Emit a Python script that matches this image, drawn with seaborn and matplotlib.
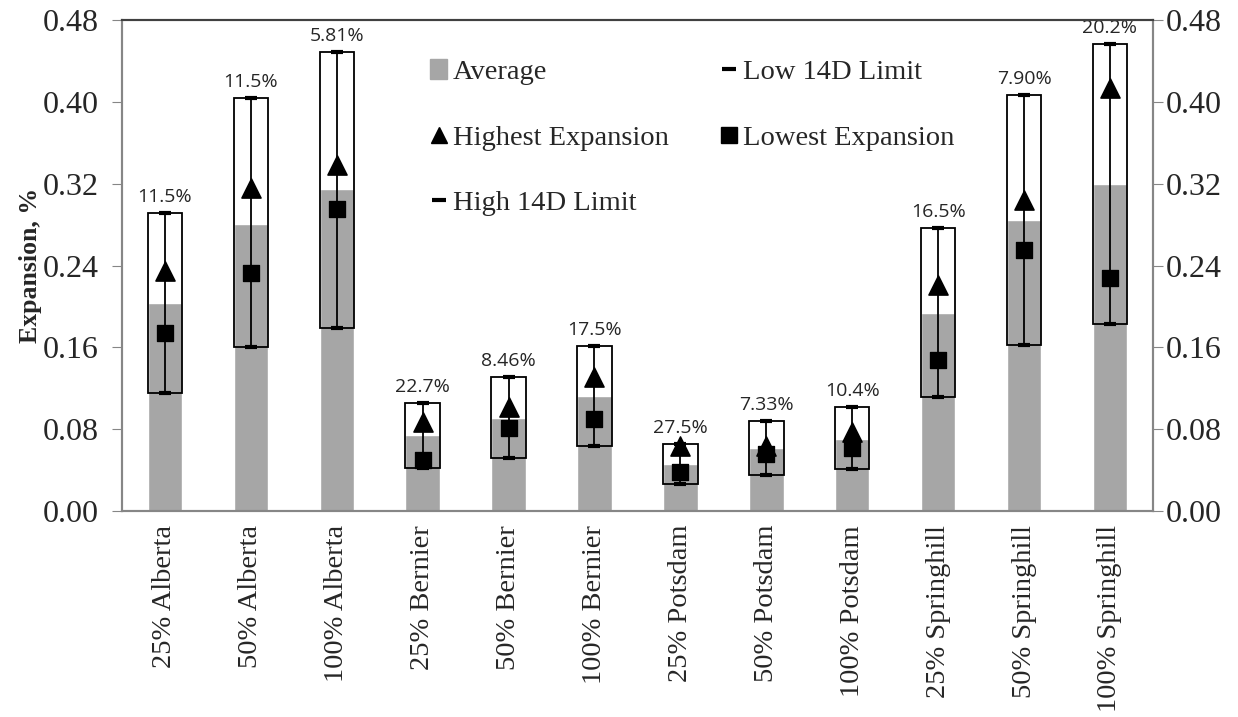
import numpy as np
import pandas as pd
import seaborn as sns
import matplotlib.pyplot as plt
from matplotlib.patches import Patch
from matplotlib.lines import Line2D

# data
mixes = ['25% Alberta', '50% Alberta', '100% Alberta',
         '25% Bernier', '50% Bernier', '100% Bernier',
         '25% Potsdam', '50% Potsdam', '100% Potsdam',
         '25% Springhill', '50% Springhill', '100% Springhill']
average = [0.203, 0.281, 0.315, 0.074, 0.091, 0.112, 0.046, 0.062, 0.070, 0.194, 0.285, 0.320]
highest = [0.235, 0.316, 0.338, 0.087, 0.102, 0.131, 0.064, 0.064, 0.077, 0.221, 0.304, 0.414]
lowest = [0.174, 0.233, 0.295, 0.050, 0.081, 0.090, 0.038, 0.056, 0.062, 0.148, 0.255, 0.228]
low_limit = [0.115, 0.160, 0.179, 0.042, 0.052, 0.064, 0.026, 0.035, 0.041, 0.111, 0.162, 0.183]
high_limit = [0.291, 0.404, 0.449, 0.106, 0.131, 0.161, 0.066, 0.088, 0.102, 0.277, 0.407, 0.457]
cov_labels = ['11.5%', '11.5%', '5.81%', '22.7%', '8.46%', '17.5%',
              '27.5%', '7.33%', '10.4%', '16.5%', '7.90%', '20.2%']

df = pd.DataFrame({'mix': mixes, 'average': average, 'highest': highest,
                   'lowest': lowest, 'low': low_limit, 'high': high_limit})

sns.set_style('white')
plt.rcParams['font.family'] = ['Liberation Serif', 'DejaVu Serif']

fig = plt.figure(figsize=(12.38, 7.17), dpi=100)
ax = fig.add_axes([0.0985, 0.2873, 0.8328, 0.6847])

gray = '#a6a6a6'
sns.barplot(data=df, x='mix', y='average', color=gray, width=0.4,
            saturation=1, ax=ax, zorder=1)

pos = np.arange(len(mixes))
hl = np.array(high_limit)
ll = np.array(low_limit)

# box between the 14D limits
ax.bar(pos, hl - ll, bottom=ll, width=0.4, fill=False,
       edgecolor='black', linewidth=1.3, zorder=2)

# whisker from low to high limit
mid = (hl + ll) / 2
ax.errorbar(pos, mid, yerr=(hl - ll) / 2, fmt='none', ecolor='black',
            elinewidth=1.3, capsize=4, capthick=3, zorder=3)

sns.scatterplot(data=df, x='mix', y='highest', marker='^', s=190,
                color='black', edgecolor='black', ax=ax, zorder=4)
sns.scatterplot(data=df, x='mix', y='lowest', marker='s', s=140,
                color='black', edgecolor='black', ax=ax, zorder=4)

for i, t in enumerate(cov_labels):
    ax.annotate(t, (pos[i], high_limit[i]), xytext=(0, 5), textcoords='offset points',
                ha='center', va='bottom', fontsize=14, family='Open Sans')

ax.set_xlim(-0.5, len(mixes) - 0.5)
ax.set_ylim(0, 0.48)
yt = np.arange(0, 0.481, 0.08)
ax.set_yticks(yt)
ax.set_yticklabels(['%.2f' % v for v in yt], fontsize=23)
ax.set_xticks(pos)
ax.set_xticklabels(mixes, rotation=90, fontsize=20.5)
ax.set_xticks(np.arange(-0.5, len(mixes), 1), minor=True)
ax.tick_params(axis='x', which='major', length=0, pad=10)
ax.tick_params(axis='x', which='minor', length=7, color='#868686', direction='out')
ax.tick_params(axis='y', length=7, color='#868686', direction='out', left=True, pad=10)
ax.set_xlabel('')
ax.set_ylabel('Expansion, %', fontsize=18.5, fontweight='bold')
ax.yaxis.set_label_coords(-0.078, 0.5)

ax2 = ax.twinx()
ax2.set_ylim(0, 0.48)
ax2.set_yticks(yt)
ax2.set_yticklabels(['%.2f' % v for v in yt], fontsize=23)
ax2.tick_params(axis='y', length=7, color='#868686', direction='out', right=True, pad=2)

for a in (ax, ax2):
    for s in ('left', 'right', 'bottom'):
        a.spines[s].set_color('#868686')
        a.spines[s].set_linewidth(1.5)
    a.spines['top'].set_color('#404040')
    a.spines['top'].set_linewidth(1.5)

handles = [Patch(color=gray),
           Line2D([], [], ls='none', marker='^', color='black', markersize=12),
           Line2D([], [], ls='none', marker='_', color='black', markersize=10, markeredgewidth=3),
           Line2D([], [], ls='none', marker='_', color='black', markersize=10, markeredgewidth=3),
           Line2D([], [], ls='none', marker='s', color='black', markersize=12)]
names = ['Average', 'Highest Expansion', 'High 14D Limit', 'Low 14D Limit', 'Lowest Expansion']
ax.legend(handles, names, ncol=2, loc='upper left', bbox_to_anchor=(0.274, 0.972),
          frameon=False, fontsize=20.5, handlelength=0.6, handletextpad=0.2,
          labelspacing=1.38, columnspacing=1.8)

fig.savefig('out.png', dpi=100)
